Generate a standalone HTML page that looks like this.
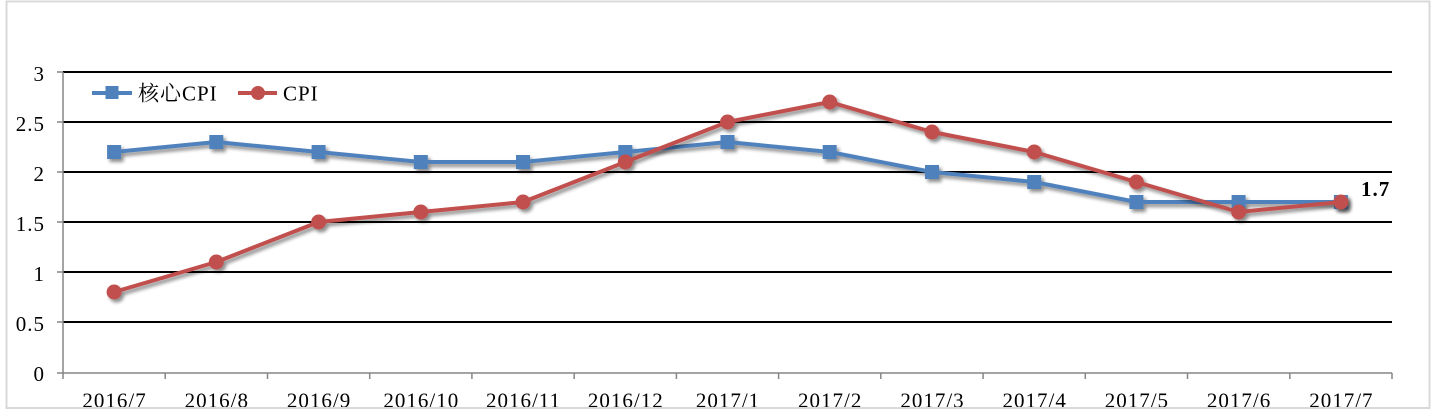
<!DOCTYPE html>
<html><head><meta charset="utf-8"><style>
html,body{margin:0;padding:0;background:#fff;}
svg{display:block;}
text{font-family:"Liberation Serif","Noto Serif CJK SC","Noto Sans CJK SC",serif;font-size:21px;fill:#000;letter-spacing:1px;}
.lat{font-family:"Liberation Serif",serif;}
.cjk{font-family:"Noto Serif CJK SC","Noto Sans CJK SC",serif;}
</style></head><body>
<svg width="1432" height="416" viewBox="0 0 1432 416" xmlns="http://www.w3.org/2000/svg">
<defs>
<filter id="sh" x="-10%" y="-30%" width="120%" height="160%">
<feGaussianBlur in="SourceAlpha" stdDeviation="1.8"/>
<feOffset dx="2.5" dy="3" result="o"/>
<feComponentTransfer><feFuncA type="linear" slope="0.45"/></feComponentTransfer>
<feMerge><feMergeNode/><feMergeNode in="SourceGraphic"/></feMerge>
</filter>
</defs>
<rect x="0" y="0" width="1432" height="416" fill="#fff"/>
<g stroke="#000" stroke-width="2">
<line x1="63" y1="72" x2="1392" y2="72"/>
<line x1="63" y1="122" x2="1392" y2="122"/>
<line x1="63" y1="172" x2="1392" y2="172"/>
<line x1="63" y1="222" x2="1392" y2="222"/>
<line x1="63" y1="272" x2="1392" y2="272"/>
<line x1="63" y1="322" x2="1392" y2="322"/>
</g>
<g stroke="#868686" stroke-width="1.5">
<line x1="63" y1="72" x2="63" y2="373"/>
<line x1="63" y1="373" x2="1392" y2="373"/>
<line x1="57" y1="72" x2="63" y2="72"/>
<line x1="57" y1="122" x2="63" y2="122"/>
<line x1="57" y1="172" x2="63" y2="172"/>
<line x1="57" y1="222" x2="63" y2="222"/>
<line x1="57" y1="272" x2="63" y2="272"/>
<line x1="57" y1="322" x2="63" y2="322"/>
<line x1="57" y1="373" x2="63" y2="373"/>
<line x1="63" y1="373" x2="63" y2="379"/>
<line x1="165.2" y1="373" x2="165.2" y2="379"/>
<line x1="267.5" y1="373" x2="267.5" y2="379"/>
<line x1="369.7" y1="373" x2="369.7" y2="379"/>
<line x1="471.9" y1="373" x2="471.9" y2="379"/>
<line x1="574.2" y1="373" x2="574.2" y2="379"/>
<line x1="676.4" y1="373" x2="676.4" y2="379"/>
<line x1="778.6" y1="373" x2="778.6" y2="379"/>
<line x1="880.8" y1="373" x2="880.8" y2="379"/>
<line x1="983.1" y1="373" x2="983.1" y2="379"/>
<line x1="1085.3" y1="373" x2="1085.3" y2="379"/>
<line x1="1187.5" y1="373" x2="1187.5" y2="379"/>
<line x1="1289.8" y1="373" x2="1289.8" y2="379"/>
<line x1="1392" y1="373" x2="1392" y2="379"/>
</g>
<g text-anchor="end">
<text x="45" y="81">3</text>
<text x="45" y="131">2.5</text>
<text x="45" y="181">2</text>
<text x="45" y="231">1.5</text>
<text x="45" y="281">1</text>
<text x="45" y="331">0.5</text>
<text x="45" y="381">0</text>
</g>
<g text-anchor="middle">
<text x="114.6" y="407.5">2016/7</text>
<text x="216.8" y="407.5">2016/8</text>
<text x="319.1" y="407.5">2016/9</text>
<text x="421.3" y="407.5">2016/10</text>
<text x="523.5" y="407.5">2016/11</text>
<text x="625.8" y="407.5">2016/12</text>
<text x="728" y="407.5">2017/1</text>
<text x="830.2" y="407.5">2017/2</text>
<text x="932.5" y="407.5">2017/3</text>
<text x="1034.7" y="407.5">2017/4</text>
<text x="1136.9" y="407.5">2017/5</text>
<text x="1239.1" y="407.5">2017/6</text>
<text x="1341.4" y="407.5">2017/7</text>
</g>
<g filter="url(#sh)">
<polyline fill="none" stroke="#4F81BD" stroke-width="4" stroke-linejoin="round"
points="114.1,152 216.3,142 318.6,152 420.8,162 523,162 625.3,152 727.5,142 829.7,152 932,172 1034.2,182 1136.4,202 1238.6,202 1340.9,202"/>
<g fill="#4F81BD">
<rect x="107.1" y="145" width="14" height="14"/>
<rect x="209.3" y="135" width="14" height="14"/>
<rect x="311.6" y="145" width="14" height="14"/>
<rect x="413.8" y="155" width="14" height="14"/>
<rect x="516" y="155" width="14" height="14"/>
<rect x="618.3" y="145" width="14" height="14"/>
<rect x="720.5" y="135" width="14" height="14"/>
<rect x="822.7" y="145" width="14" height="14"/>
<rect x="925" y="165" width="14" height="14"/>
<rect x="1027.2" y="175" width="14" height="14"/>
<rect x="1129.4" y="195" width="14" height="14"/>
<rect x="1231.6" y="195" width="14" height="14"/>
<rect x="1333.9" y="195" width="14" height="14"/>
</g>
</g>
<g filter="url(#sh)">
<polyline fill="none" stroke="#C0504D" stroke-width="4" stroke-linejoin="round"
points="114.1,292 216.3,262 318.6,222 420.8,212 523,202 625.3,162 727.5,122 829.7,102 932,132 1034.2,152 1136.4,182 1238.6,212 1340.9,202"/>
<g fill="#C0504D">
<circle cx="114.1" cy="292" r="7.5"/>
<circle cx="216.3" cy="262" r="7.5"/>
<circle cx="318.6" cy="222" r="7.5"/>
<circle cx="420.8" cy="212" r="7.5"/>
<circle cx="523" cy="202" r="7.5"/>
<circle cx="625.3" cy="162" r="7.5"/>
<circle cx="727.5" cy="122" r="7.5"/>
<circle cx="829.7" cy="102" r="7.5"/>
<circle cx="932" cy="132" r="7.5"/>
<circle cx="1034.2" cy="152" r="7.5"/>
<circle cx="1136.4" cy="182" r="7.5"/>
<circle cx="1238.6" cy="212" r="7.5"/>
<circle cx="1340.9" cy="202" r="7.5"/>
</g>
</g>
<text x="1361" y="196" style="font-weight:bold">1.7</text>
<line x1="92" y1="93" x2="132" y2="93" stroke="#4F81BD" stroke-width="4"/>
<rect x="105.5" y="86" width="13" height="13" fill="#4F81BD"/>
<text x="138" y="100.5"><tspan class="cjk">核心</tspan><tspan class="lat">CPI</tspan></text>
<line x1="238" y1="93" x2="277" y2="93" stroke="#C0504D" stroke-width="4"/>
<circle cx="258" cy="93" r="7" fill="#C0504D"/>
<text x="283" y="100.5" class="lat">CPI</text>
<rect x="0" y="409" width="1432" height="7" fill="#fff"/>
<rect x="6.5" y="1.5" width="1423" height="406.5" fill="none" stroke="#d9d9d9" stroke-width="2"/>
</svg>
</body></html>
